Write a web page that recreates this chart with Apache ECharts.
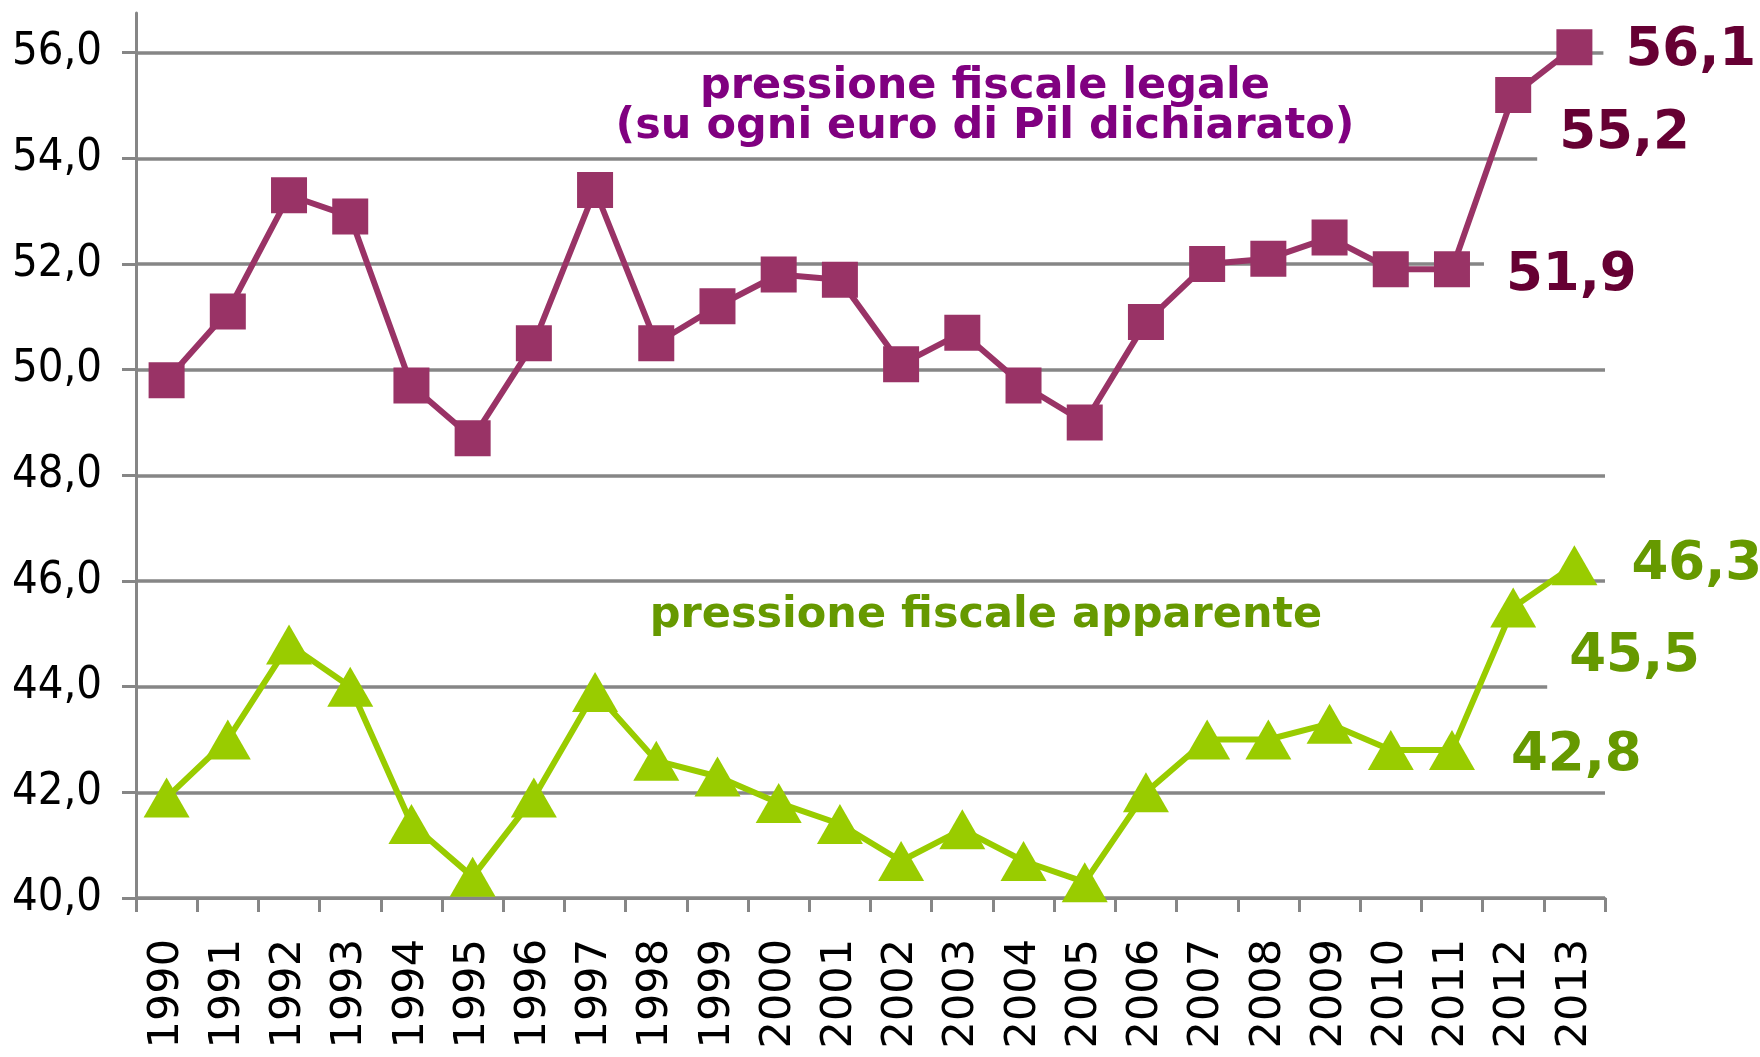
<!DOCTYPE html>
<html>
<head>
<meta charset="utf-8">
<script src="https://cdn.jsdelivr.net/npm/echarts@6/dist/echarts.min.js"></script>
<style>
html,body{margin:0;padding:0;background:#fff;}
#chart{width:1760px;height:1057px;}
</style>
</head>
<body>
<div id="chart"></div>
<script>
const years = ['1990','1991','1992','1993','1994','1995','1996','1997','1998','1999','2000','2001','2002','2003','2004','2005','2006','2007','2008','2009','2010','2011','2012','2013'];
const legale = [49.8, 51.1, 53.3, 52.9, 49.7, 48.7, 50.5, 53.4, 50.5, 51.2, 51.8, 51.7, 50.1, 50.7, 49.7, 49.0, 50.9, 52.0, 52.1, 52.5, 51.9, 51.9, 55.2, 56.1];
const apparente = [41.9, 43.0, 44.8, 44.0, 41.4, 40.4, 41.9, 43.9, 42.6, 42.3, 41.8, 41.4, 40.7, 41.3, 40.7, 40.3, 42.0, 43.0, 43.0, 43.3, 42.8, 42.8, 45.5, 46.3];
const yTicks = [40, 42, 44, 46, 48, 50, 52, 54, 56];
const legaleTitle = 'pressione fiscale legale\n(su ogni euro di Pil dichiarato)';
const apparenteTitle = 'pressione fiscale apparente';

const GRID = '#868686';
const fmt = v => v.toFixed(1).replace('.', ',');

function withLabels(values, color, cfg) {
  return values.map((v, i) => {
    const c = cfg[i];
    if (!c) return v;
    return {
      value: v,
      label: {
        show: true,
        position: 'right',
        distance: c.d,
        offset: [0, c.dy],
        formatter: p => fmt(p.value),
        color: color,
        fontFamily: 'DejaVu Sans',
        fontWeight: 'bold',
        fontSize: 53,
        backgroundColor: '#ffffff',
        padding: [6, 4, 6, 22]
      }
    };
  });
}

const n = years.length;
const legCfg = {};
legCfg[n - 3] = { d: 14, dy: 7 };
legCfg[n - 2] = { d: 6, dy: 39 };
legCfg[n - 1] = { d: 11, dy: 4 };
const appCfg = {};
appCfg[n - 3] = { d: 14, dy: 6 };
appCfg[n - 2] = { d: 11, dy: 50 };
appCfg[n - 1] = { d: 12, dy: 0 };

const splitColors = yTicks.map(() => GRID).concat(['rgba(0,0,0,0)']);

const chart = echarts.init(document.getElementById('chart'), null, { renderer: 'canvas' });
chart.setOption({
  animation: false,
  backgroundColor: '#ffffff',
  grid: { left: 136, right: 155, top: 13, bottom: 159, containLabel: false },
  xAxis: {
    type: 'category',
    data: years,
    boundaryGap: true,
    axisLine: { lineStyle: { color: GRID, width: 3 } },
    axisTick: { show: true, length: 14, lineStyle: { color: GRID, width: 3 } },
    axisLabel: {
      rotate: 90,
      interval: 0,
      margin: 41,
      color: '#000',
      fontFamily: 'DejaVu Sans',
      fontSize: 43
    },
    splitLine: { show: false }
  },
  yAxis: {
    type: 'value',
    min: 40,
    max: 56.75,
    interval: 2,
    axisLine: { show: true, lineStyle: { color: GRID, width: 3 } },
    axisTick: { show: true, length: 14, customValues: yTicks, lineStyle: { color: GRID, width: 3 } },
    axisLabel: {
      customValues: yTicks,
      margin: 34,
      color: '#000',
      fontFamily: 'DejaVu Sans Condensed',
      fontSize: 45,
      formatter: v => (yTicks.indexOf(v) >= 0 ? fmt(v) : '')
    },
    splitLine: { show: true, lineStyle: { color: splitColors, width: 3.5 } }
  },
  graphic: [
    {
      type: 'text', x: 985, y: 107, z: 10,
      style: {
        text: legaleTitle, fill: '#800080', align: 'center', verticalAlign: 'middle',
        font: 'bold 43px "DejaVu Sans"', lineHeight: 40
      }
    },
    {
      type: 'text', x: 986, y: 616, z: 10,
      style: {
        text: apparenteTitle, fill: '#669900', align: 'center', verticalAlign: 'middle',
        font: 'bold 43px "DejaVu Sans"'
      }
    }
  ],
  series: [
    {
      name: 'legale',
      type: 'line',
      clip: false,
      data: withLabels(legale, '#660033', legCfg),
      symbol: 'rect',
      symbolSize: 36,
      lineStyle: { color: '#993366', width: 6 },
      itemStyle: { color: '#993366' },
      z: 3
    },
    {
      name: 'apparente',
      type: 'line',
      clip: false,
      data: withLabels(apparente, '#669900', appCfg),
      symbol: 'triangle',
      symbolSize: [46, 40],
      lineStyle: { color: '#99CC00', width: 6 },
      itemStyle: { color: '#99CC00' },
      z: 3
    }
  ]
});
</script>
</body>
</html>
